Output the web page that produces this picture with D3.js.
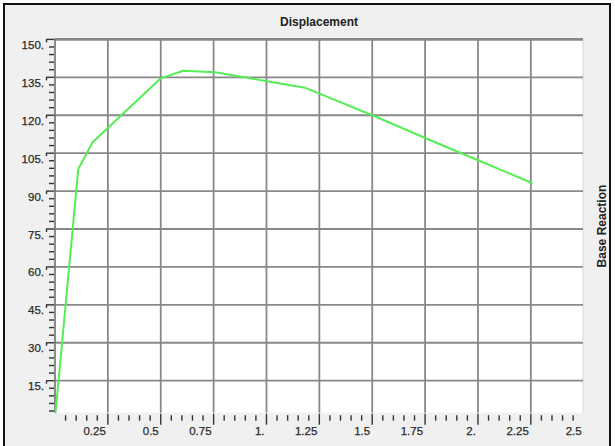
<!DOCTYPE html>
<html><head><meta charset="utf-8">
<script src="https://cdn.jsdelivr.net/npm/d3@7"></script>
<style>html,body{margin:0;padding:0;background:#fff;}svg{display:block;}</style>
</head><body>
<script>
// Data
const displacement = [0, 0.11, 0.178, 0.5, 0.606, 0.756, 1.181, 1.512, 1.764, 2.009, 2.258];
const baseReaction = [0, 98.7, 109.3, 134.6, 137.6, 137.0, 130.9, 119.6, 110.5, 101.9, 93.1];
const xTickValues = [0.25, 0.5, 0.75, 1, 1.25, 1.5, 1.75, 2, 2.25, 2.5];
const xTickLabels = ["0.25", "0.5", "0.75", "1.", "1.25", "1.5", "1.75", "2.", "2.25", "2.5"];
const yTickValues = [15, 30, 45, 60, 75, 90, 105, 120, 135, 150];
const yTickLabels = ["15.", "30.", "45.", "60.", "75.", "90.", "105.", "120.", "135.", "150."];
const titleText = "Displacement";
const yAxisTitle = "Base Reaction";

const W = 615, H = 446;
const L = 55, R = 583, T = 39.4, B = 412.7;

const svg = d3.select("body").append("svg").attr("width", W).attr("height", H);

// outer frame
svg.append("rect").attr("x", 4).attr("y", 4).attr("width", 606).attr("height", 460)
  .attr("fill", "#f0f0f0").attr("stroke", "#111").attr("stroke-width", 2);

const x = d3.scaleLinear().domain([0, 2.5]).range([L, R + 0.7]);
const y = d3.scaleLinear().domain([0, 150]).range([418.6, T]);

// plot area
svg.append("rect").attr("x", L).attr("y", T).attr("width", R - L).attr("height", B - T)
  .attr("fill", "#fff");
svg.append("line").attr("x1", R).attr("x2", R).attr("y1", T).attr("y2", B)
  .attr("stroke", "#d8d8d8").attr("stroke-width", 1);

const defs = svg.append("defs");
defs.append("clipPath").attr("id", "clip").append("rect")
  .attr("x", L).attr("y", T - 2).attr("width", R - L).attr("height", B - T + 2);

const grid = svg.append("g").attr("stroke", "#888").attr("stroke-width", 1.8);
grid.selectAll("line.v").data(xTickValues.filter(v => v < 2.5)).join("line")
  .attr("x1", d => x(d)).attr("x2", d => x(d)).attr("y1", T).attr("y2", B);
grid.selectAll("line.h").data(yTickValues).join("line")
  .attr("x1", L).attr("x2", R).attr("y1", d => y(d)).attr("y2", d => y(d))
  .attr("stroke-width", d => d === 150 ? 2.6 : 1.8);

// left axis line
svg.append("line").attr("x1", L).attr("x2", L).attr("y1", T - 1).attr("y2", B)
  .attr("stroke", "#666").attr("stroke-width", 1.5);

// x ticks (minor every 0.05)
const xMinor = d3.range(1, 50).map(i => i * 0.05).filter(v => Math.abs(v / 0.25 - Math.round(v / 0.25)) > 1e-6);
const xt = svg.append("g").attr("stroke", "#333").attr("stroke-width", 1.4);
xt.selectAll("line.mi").data(xMinor).join("line")
  .attr("x1", d => x(d)).attr("x2", d => x(d)).attr("y1", B + 2.5).attr("y2", B + 8);
xt.selectAll("line.ma").data(xTickValues.filter(v => v < 2.5)).join("line")
  .attr("x1", d => x(d)).attr("x2", d => x(d)).attr("y1", B + 1).attr("y2", B + 12);

svg.append("g").selectAll("text").data(xTickValues).join("text")
  .attr("x", d => x(d) - 2).attr("y", 435)
  .attr("text-anchor", "end").attr("font-family", "Liberation Sans, Arial, sans-serif")
  .attr("font-size", 11.5).attr("fill", "#2a2a2a")
  .attr("stroke", "#2a2a2a").attr("stroke-width", 0.25)
  .text((d, i) => xTickLabels[i]);

// y ticks (minor every 3)
const yMinor = d3.range(1, 50).map(i => i * 3).filter(v => v % 15 !== 0 && y(v) < B);
const yt = svg.append("g").attr("stroke", "#333").attr("stroke-width", 1.4);
yt.selectAll("line.mi").data(yMinor).join("line")
  .attr("x1", L - 6).attr("x2", L - 1).attr("y1", d => y(d)).attr("y2", d => y(d));
yt.selectAll("line.ma").data(yTickValues).join("line")
  .attr("x1", L - 9).attr("x2", L - 1).attr("y1", d => y(d)).attr("y2", d => y(d));
yt.selectAll("line.mb").data(yTickValues).join("line")
  .attr("x1", L - 8.5).attr("x2", L - 8.5).attr("y1", d => y(d)).attr("y2", d => y(d) + 3);

svg.append("g").selectAll("text").data(yTickValues).join("text")
  .attr("x", 44).attr("y", d => y(d) + 9.5)
  .attr("text-anchor", "end").attr("font-family", "Liberation Sans, Arial, sans-serif")
  .attr("font-size", 11.5).attr("fill", "#2a2a2a")
  .attr("stroke", "#2a2a2a").attr("stroke-width", 0.25)
  .text((d, i) => yTickLabels[i]);

// line
const pts = displacement.map((d, i) => [d, baseReaction[i]]);
svg.append("path").datum(pts)
  .attr("clip-path", "url(#clip)")
  .attr("fill", "none").attr("stroke", "#55ee55").attr("stroke-width", 2)
  .attr("stroke-linejoin", "round")
  .attr("d", d3.line().x(d => x(d[0])).y(d => y(d[1])));

// titles
svg.append("text").attr("x", (L + R) / 2).attr("y", 26)
  .attr("text-anchor", "middle").attr("font-family", "Liberation Sans, Arial, sans-serif")
  .attr("font-size", 12).attr("font-weight", "bold").attr("fill", "#222")
  .text(titleText);
svg.append("text").attr("transform", `translate(606,${(T + B) / 2}) rotate(-90)`)
  .attr("text-anchor", "middle").attr("font-family", "Liberation Sans, Arial, sans-serif")
  .attr("font-size", 12).attr("font-weight", "bold").attr("fill", "#222")
  .text(yAxisTitle);
</script>
</body></html>
